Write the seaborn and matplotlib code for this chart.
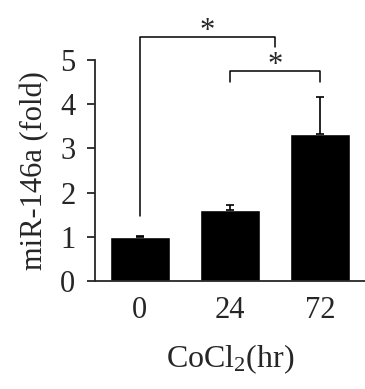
import matplotlib
matplotlib.use("Agg")
import matplotlib.pyplot as plt
import seaborn as sns
import pandas as pd

# values
hours = ["0", "24", "72"]
fold = [1.0, 1.61, 3.32]
err_up = [0.01, 0.12, 0.84]

df = pd.DataFrame({"hr": hours, "fold": fold})

sns.set_style("ticks")
plt.rcParams["font.family"] = ["Liberation Serif", "DejaVu Serif"]
plt.rcParams["mathtext.fontset"] = "custom"
plt.rcParams["mathtext.rm"] = "Liberation Serif"
plt.rcParams["mathtext.it"] = "Liberation Serif:italic"

fig = plt.figure(figsize=(3.65, 3.89), dpi=100)
ax = fig.add_axes([0.26, 0.2776, 0.74, 0.568])

sns.barplot(data=df, x="hr", y="fold", color="black", saturation=1,
            width=0.67, errorbar=None, ax=ax)
ax.errorbar(range(len(hours)), fold, yerr=[[0] * len(hours), err_up],
            fmt="none", ecolor="black", elinewidth=1.2, capsize=3, capthick=1.2)

ax.set_xlim(-0.5, 2.5)
ax.set_ylim(0, 5)
ax.set_yticks(range(6))
sns.despine(ax=ax)
for s in ["left", "bottom"]:
    ax.spines[s].set_linewidth(1.3)
ax.tick_params(axis="y", length=6, width=1.3, labelsize=22, pad=8)
ax.tick_params(axis="x", length=0, labelsize=22, pad=11)
ax.set_xlabel(r"CoCl$_{\mathregular{2}}$(hr)", fontsize=23, labelpad=12)
ax.set_ylabel("miR-146a (fold)", fontsize=22, labelpad=8)

# significance brackets
lw = 1.1
ax.plot([0, 0, 1.5, 1.5], [1.48, 5.52, 5.52, 5.30], color="black", lw=lw, clip_on=False)
ax.text(0.75, 5.64, "*", ha="center", va="center", fontsize=22, clip_on=False)
ax.plot([1, 1, 2, 2], [4.5, 4.75, 4.75, 4.5], color="black", lw=lw, clip_on=False)
ax.text(1.5, 4.87, "*", ha="center", va="center", fontsize=22, clip_on=False)

fig.savefig("out.png", dpi=100)
